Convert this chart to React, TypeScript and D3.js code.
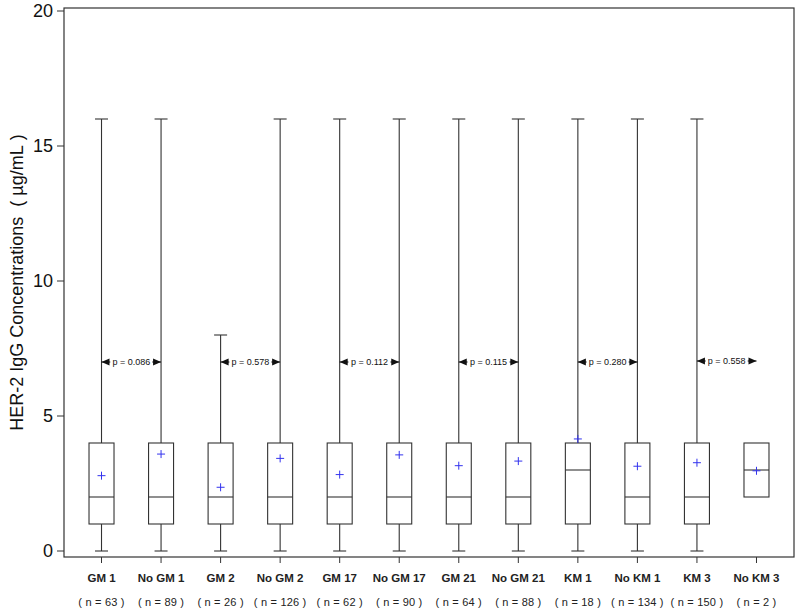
import React from "react";
import * as d3 from "d3";

// groups and summary values
const categories = ["GM 1", "No GM 1", "GM 2", "No GM 2", "GM 17", "No GM 17", "GM 21", "No GM 21", "KM 1", "No KM 1", "KM 3", "No KM 3"];
const counts = [63, 89, 26, 126, 62, 90, 64, 88, 18, 134, 150, 2];
const mins = [0, 0, 0, 0, 0, 0, 0, 0, 0, 0, 0, 2];
const q1s = [1, 1, 1, 1, 1, 1, 1, 1, 1, 1, 1, 2];
const medians = [2, 2, 2, 2, 2, 2, 2, 2, 3, 2, 2, 3];
const q3s = [4, 4, 4, 4, 4, 4, 4, 4, 4, 4, 4, 4];
const maxs = [16, 16, 8, 16, 16, 16, 16, 16, 16, 16, 16, 4];
const means = [2.79, 3.59, 2.36, 3.43, 2.83, 3.56, 3.16, 3.33, 4.15, 3.14, 3.27, 2.97];
const yTicks = [0, 5, 10, 15, 20];

const pPairs = [[0, 1], [2, 3], [4, 5], [6, 7], [8, 9], [10, 11]];
const pValues = ["0.086", "0.578", "0.112", "0.115", "0.280", "0.558"];
const pLevel = 7;

const W = 800, H = 613;
const margin = { top: 8, right: 6, bottom: 56, left: 64 };

const App = () => {
  const x = d3
    .scalePoint()
    .domain(categories)
    .range([margin.left, W - margin.right])
    .padding(0.63);
  const y = d3.scaleLinear().domain([0, 20]).range([551, 11]);

  const boxW = 25, capW = 13;
  const stroke = "#333";
  const font = "Liberation Sans, Arial, sans-serif";

  const arrowHead = (xp, yp, dir) => {
    const len = 8, h = 3.5;
    return `M${xp},${yp}L${xp - dir * len},${yp - h}L${xp - dir * len},${yp + h}Z`;
  };

  return (
    <svg width={W} height={H} style={{ position: "absolute", left: 0, top: 0, background: "#fff" }}>
      {/* frame */}
      <rect x={margin.left} y={margin.top} width={W - margin.left - margin.right} height={H - margin.top - margin.bottom}
        fill="none" stroke={stroke} strokeWidth={1.2} />

      {/* y axis */}
      {yTicks.map((t) => (
        <g key={t}>
          <line x1={margin.left - 7} x2={margin.left} y1={y(t)} y2={y(t)} stroke={stroke} />
          <text x={margin.left - 11} y={y(t)} dy="0.36em" textAnchor="end" fontFamily={font} fontSize={18} fill="#111">{t}</text>
        </g>
      ))}
      <text transform={`translate(23,${(margin.top + H - margin.bottom) / 2}) rotate(-90)`} textAnchor="middle"
        fontFamily={font} fontSize={18} fill="#111">{"HER-2 IgG Concentrations\u00a0\u00a0(\u00a0µg/mL\u00a0)"}</text>

      {/* x axis labels */}
      {categories.map((c, i) => (
        <g key={c}>
          <line x1={x(c)} x2={x(c)} y1={H - margin.bottom} y2={H - margin.bottom + 6} stroke={stroke} />
          <text x={x(c)} y={582} textAnchor="middle" fontFamily={font} fontSize={11.5} fontWeight="bold" fill="#222">{c}</text>
          <text x={x(c)} y={606} textAnchor="middle" fontFamily={font} fontSize={11} letterSpacing={0.2} fill="#222">{`( n = ${counts[i]} )`}</text>
        </g>
      ))}

      {/* boxes */}
      {categories.map((c, i) => {
        const cx = x(c);
        return (
          <g key={"b" + c} stroke={stroke} strokeWidth={1.1} fill="none">
            {maxs[i] > q3s[i] && (
              <>
                <line x1={cx} x2={cx} y1={y(q3s[i])} y2={y(maxs[i])} />
                <line x1={cx - capW / 2} x2={cx + capW / 2} y1={y(maxs[i])} y2={y(maxs[i])} />
              </>
            )}
            {mins[i] < q1s[i] && (
              <>
                <line x1={cx} x2={cx} y1={y(q1s[i])} y2={y(mins[i])} />
                <line x1={cx - capW / 2} x2={cx + capW / 2} y1={y(mins[i])} y2={y(mins[i])} />
              </>
            )}
            <rect x={cx - boxW / 2} y={y(q3s[i])} width={boxW} height={y(q1s[i]) - y(q3s[i])} fill="#fff" />
            <line x1={cx - boxW / 2} x2={cx + boxW / 2} y1={y(medians[i])} y2={y(medians[i])} />
            <g stroke="#3333ee" strokeWidth={1}>
              <line x1={cx - 4} x2={cx + 4} y1={y(means[i])} y2={y(means[i])} />
              <line x1={cx} x2={cx} y1={y(means[i]) - 4} y2={y(means[i]) + 4} />
            </g>
          </g>
        );
      })}

      {/* p-value annotations */}
      {pPairs.map(([a, b], k) => {
        const xa = x(categories[a]);
        const xb = x(categories[b]);
        const yy = y(pLevel) + (k === pPairs.length - 1 ? -1 : 0);
        const mid = (xa + xb) / 2;
        const half = 20;
        return (
          <g key={"p" + k}>
            <line x1={xa} x2={mid - half - 1} y1={yy} y2={yy} stroke="#111" />
            <line x1={mid + half + 1} x2={xb} y1={yy} y2={yy} stroke="#111" />
            <path d={arrowHead(xa, yy, -1)} fill="#111" />
            <path d={arrowHead(xb, yy, 1)} fill="#111" />
            <text x={mid} y={yy} dy="0.35em" textAnchor="middle" fontFamily={font} fontSize={9} fill="#111">{`p = ${pValues[k]}`}</text>
          </g>
        );
      })}
    </svg>
  );
};

export default App;
